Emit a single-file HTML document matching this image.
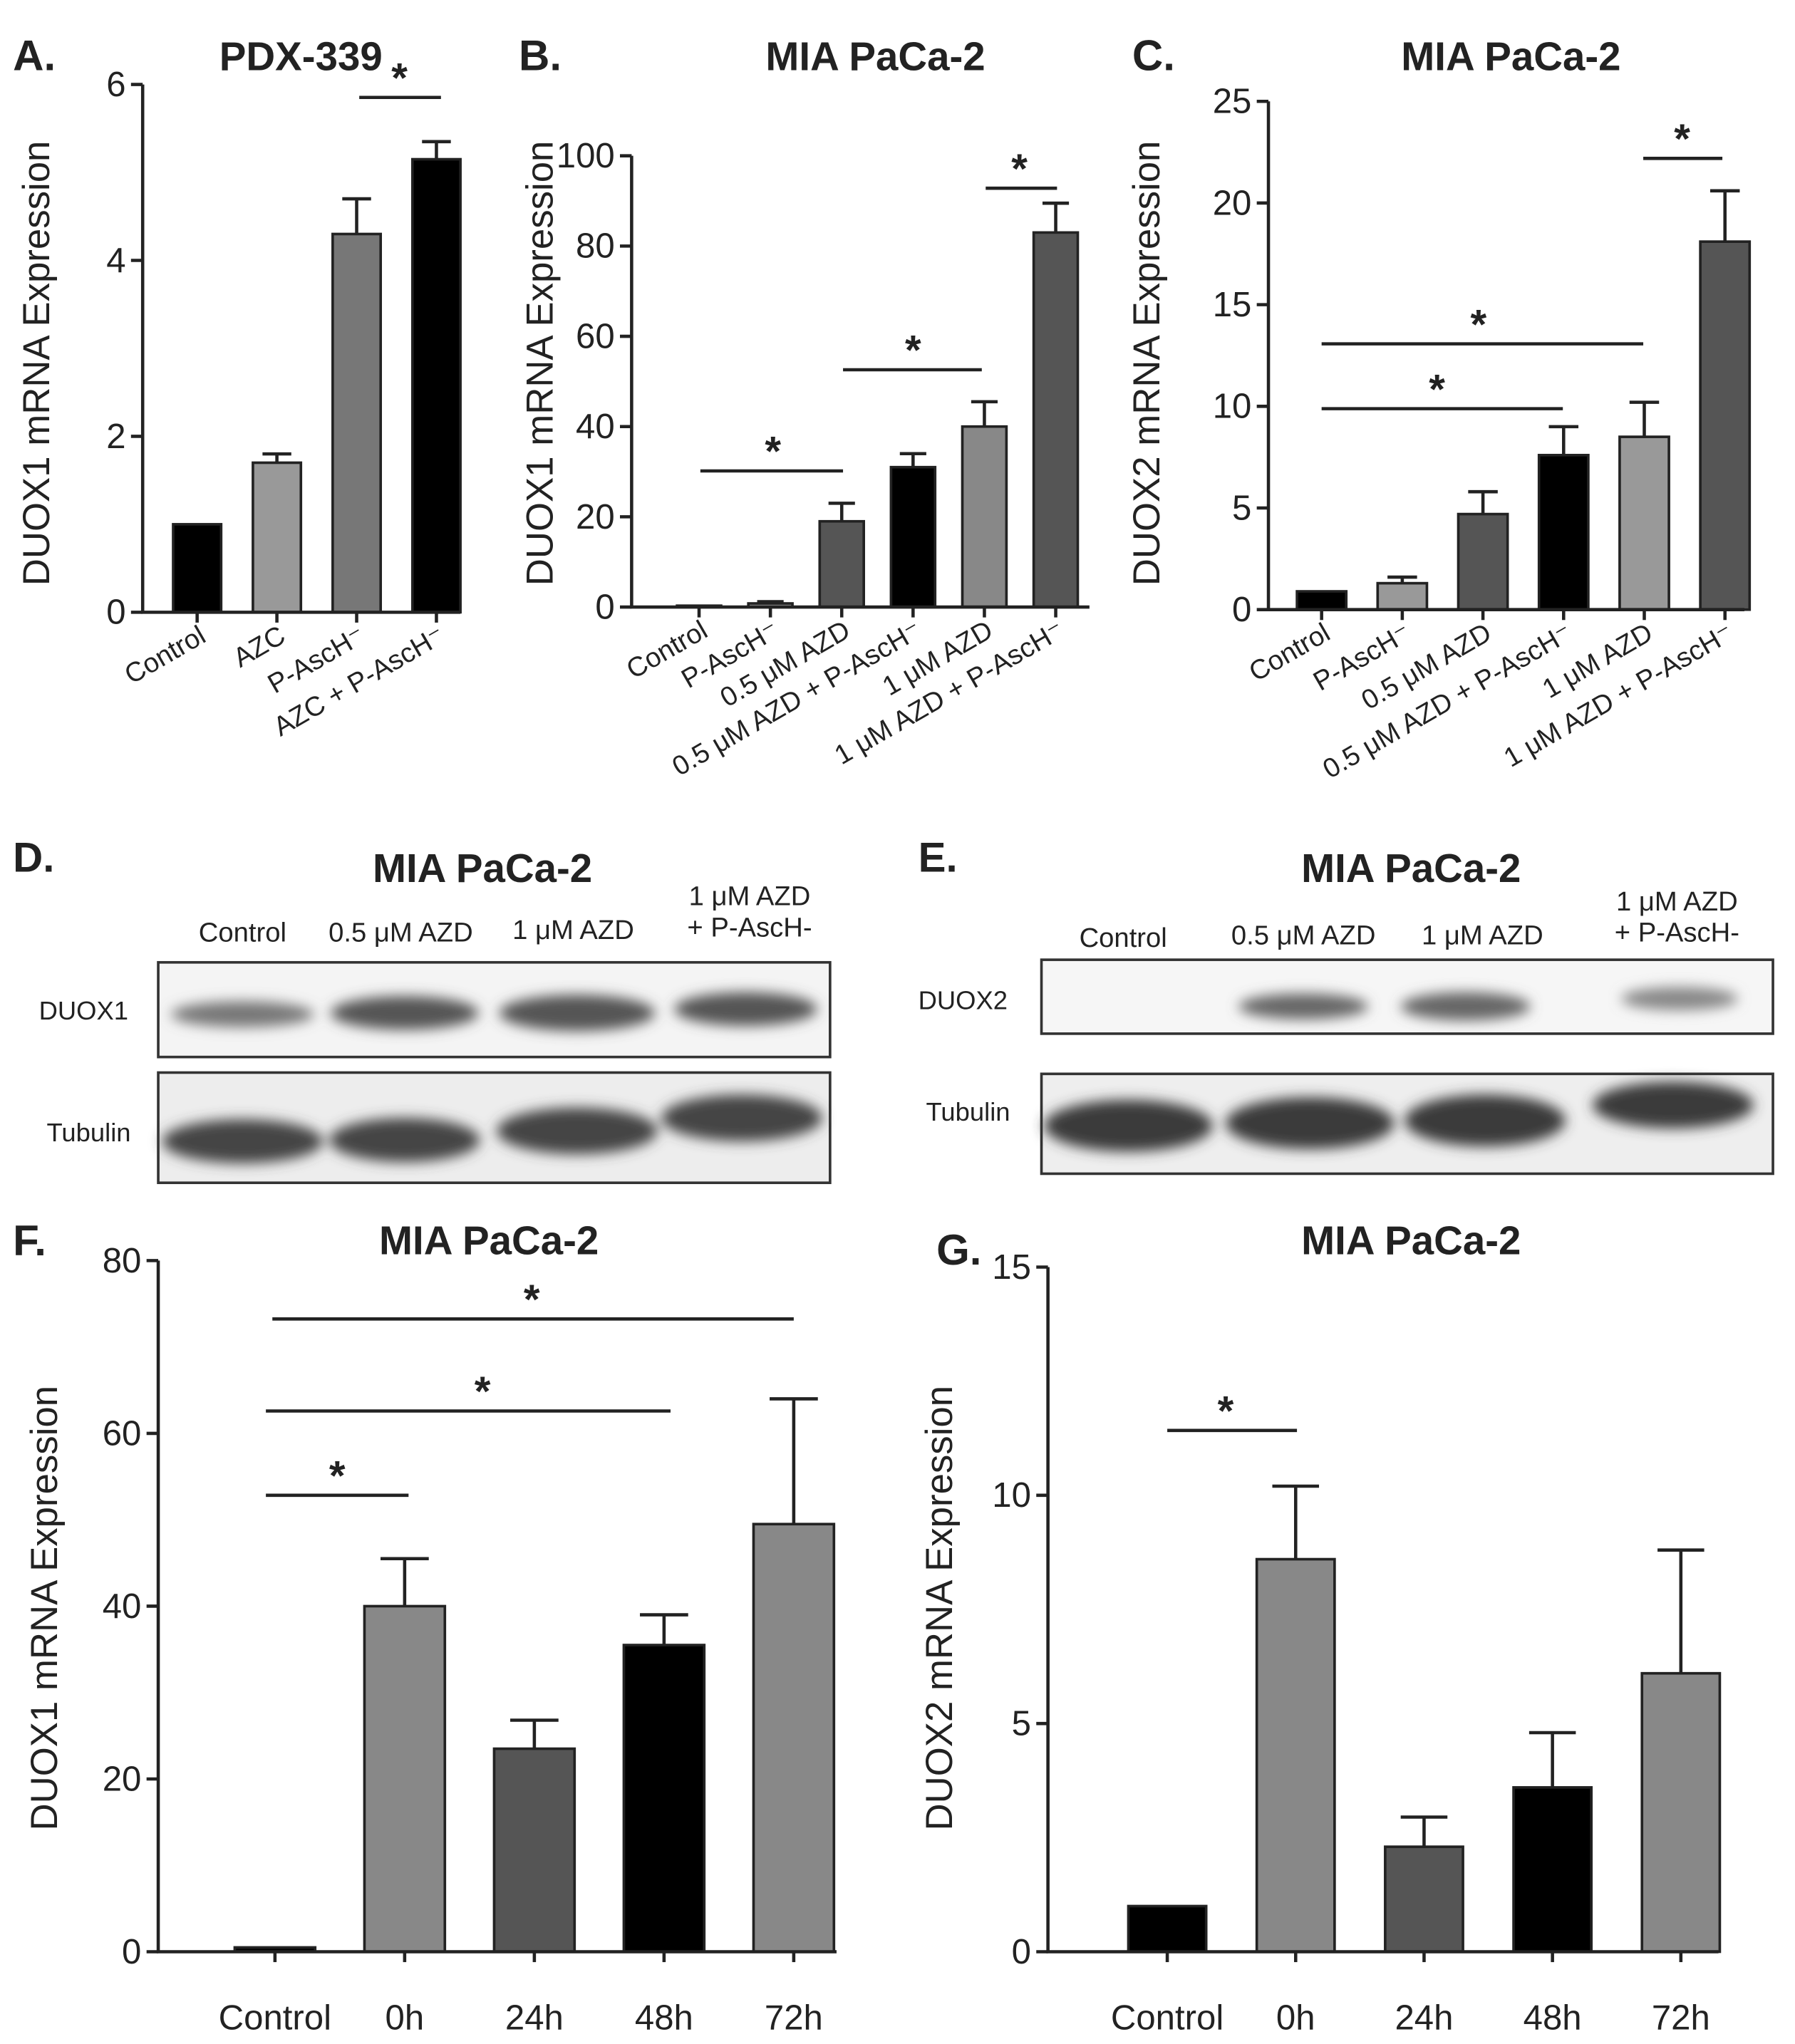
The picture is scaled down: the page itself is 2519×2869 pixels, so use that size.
<!DOCTYPE html>
<html><head><meta charset="utf-8"><style>
html,body{margin:0;padding:0;background:#fff}
svg{display:block}
text{font-family:"Liberation Sans",Arial,sans-serif;fill:#222}
</style></head><body>
<svg id="fig" width="2519" height="2869" viewBox="0 0 1384 1576" xmlns="http://www.w3.org/2000/svg">
<defs>
<filter id="blur" x="-20%" y="-50%" width="140%" height="200%"><feGaussianBlur stdDeviation="5"/></filter>
</defs>
<g>
<text x="10" y="672" font-size="32" font-weight="bold">D.</text>
<text x="372" y="680" font-size="31" font-weight="bold" text-anchor="middle">MIA PaCa-2</text>
<text x="187" y="726" font-size="21" text-anchor="middle">Control</text>
<text x="309" y="726" font-size="21" text-anchor="middle">0.5 μM AZD</text>
<text x="442" y="724" font-size="21" text-anchor="middle">1 μM AZD</text>
<text x="578" y="698" font-size="21" text-anchor="middle">1 μM AZD</text>
<text x="578" y="722" font-size="21" text-anchor="middle">+ P-AscH-</text>
<text x="30" y="786" font-size="20">DUOX1</text>
<text x="36" y="880" font-size="20">Tubulin</text>
<rect x="122" y="742" width="518" height="73" fill="#f4f4f4" stroke="#333" stroke-width="2"/>
<rect x="122" y="827" width="518" height="85" fill="#ededed" stroke="#333" stroke-width="2"/>
<g filter="url(#blur)" fill="#555">
<ellipse cx="187" cy="782" rx="55" ry="10" fill="#777"/>
<ellipse cx="312" cy="781" rx="57" ry="13"/>
<ellipse cx="445" cy="781" rx="60" ry="14"/>
<ellipse cx="575" cy="778" rx="55" ry="13"/>
<ellipse cx="187" cy="880" rx="62" ry="17" fill="#444"/>
<ellipse cx="312" cy="879" rx="58" ry="17" fill="#444"/>
<ellipse cx="445" cy="872" rx="62" ry="18" fill="#444"/>
<ellipse cx="572" cy="862" rx="62" ry="18" fill="#444"/>
</g>
</g>
<g>
<text x="708" y="672" font-size="32" font-weight="bold">E.</text>
<text x="1088" y="680" font-size="31" font-weight="bold" text-anchor="middle">MIA PaCa-2</text>
<text x="866" y="730" font-size="21" text-anchor="middle">Control</text>
<text x="1005" y="728" font-size="21" text-anchor="middle">0.5 μM AZD</text>
<text x="1143" y="728" font-size="21" text-anchor="middle">1 μM AZD</text>
<text x="1293" y="702" font-size="21" text-anchor="middle">1 μM AZD</text>
<text x="1293" y="726" font-size="21" text-anchor="middle">+ P-AscH-</text>
<text x="708" y="778" font-size="20">DUOX2</text>
<text x="714" y="864" font-size="20">Tubulin</text>
<rect x="803" y="740" width="564" height="57" fill="#f6f6f6" stroke="#333" stroke-width="2"/>
<rect x="803" y="828" width="564" height="77" fill="#eeeeee" stroke="#333" stroke-width="2"/>
<g filter="url(#blur)" fill="#555">
<ellipse cx="1005" cy="776" rx="50" ry="10" fill="#666"/>
<ellipse cx="1130" cy="776" rx="50" ry="11" fill="#666"/>
<ellipse cx="1295" cy="770" rx="45" ry="9" fill="#888"/>
<ellipse cx="870" cy="868" rx="65" ry="20" fill="#3a3a3a"/>
<ellipse cx="1010" cy="866" rx="65" ry="20" fill="#3a3a3a"/>
<ellipse cx="1145" cy="864" rx="62" ry="20" fill="#3a3a3a"/>
<ellipse cx="1290" cy="852" rx="62" ry="18" fill="#3a3a3a"/>
</g>
</g>
<g id="charts"></g>
</svg>
<script>
// Panel A
const aCats = ["Control","AZC","P-AscH\u207B","AZC + P-AscH\u207B"];
const aVals = [1.0, 1.7, 4.3, 5.15];
const aErr = [1.0, 1.8, 4.7, 5.35];
const aTicks = [0,2,4,6];
// Panel B
const bCats = ["Control","P-AscH\u207B","0.5 \u03BCM AZD","0.5 \u03BCM AZD + P-AscH\u207B","1 \u03BCM AZD","1 \u03BCM AZD + P-AscH\u207B"];
const bVals = [0.3, 0.8, 19, 31, 40, 83];
const bErr = [0.3, 1.2, 23, 34, 45.5, 89.5];
const bTicks = [0,20,40,60,80,100];
// Panel C
const cCats = ["Control","P-AscH\u207B","0.5 \u03BCM AZD","0.5 \u03BCM AZD + P-AscH\u207B","1 \u03BCM AZD","1 \u03BCM AZD + P-AscH\u207B"];
const cVals = [0.9, 1.3, 4.7, 7.6, 8.5, 18.1];
const cErr = [0.9, 1.6, 5.8, 9.0, 10.2, 20.6];
const cTicks = [0,5,10,15,20,25];
// Panel F
const fCats = ["Control","0h","24h","48h","72h"];
const fVals = [0.5, 40, 23.5, 35.5, 49.5];
const fErr = [0.5, 45.5, 26.8, 39, 64];
const fTicks = [0,20,40,60,80];
// Panel G
const gCats = ["Control","0h","24h","48h","72h"];
const gVals = [1.0, 8.6, 2.3, 3.6, 6.1];
const gErr = [1.0, 10.2, 2.95, 4.8, 8.8];
const gTicks = [0,5,10,15];

const NS="http://www.w3.org/2000/svg";
const root=document.getElementById('charts');
function mk(tag,attrs,parent){const e=document.createElementNS(NS,tag);for(const k in attrs)e.setAttribute(k,attrs[k]);(parent||root).appendChild(e);return e;}

function chart(cfg){
  const g=mk('g',{});
  
  
  const y=v=>cfg.y0-(v/cfg.ymax)*(cfg.y0-cfg.ytop);
  const letter=mk('text',{x:cfg.lx,y:cfg.ly,'font-size':33,'font-weight':'bold'},g);letter.textContent=cfg.letter;
  
  
  const t=mk('text',{x:cfg.tx,y:cfg.ty,'font-size':31,'font-weight':'bold','text-anchor':'middle'},g);t.textContent=cfg.title;
  
  
  const yt=mk('text',{x:0,y:0,'font-size':29,'text-anchor':'middle',transform:`translate(${cfg.ytx},${cfg.yty}) rotate(-90)`},g);yt.textContent=cfg.ytitle;
  
  
  cfg.cats.forEach((c,i)=>{
    const cx=cfg.x0+cfg.step*i;
    const top=y(cfg.vals[i]);
    if(cfg.err[i]>cfg.vals[i]+0.001){
      const el=mk('path',{d:`M${cx} ${top} V${y(cfg.err[i])} M${cx-cfg.bw*0.3} ${y(cfg.err[i])} H${cx+cfg.bw*0.3}`,stroke:'#222','stroke-width':2.5,fill:'none'},g);
      
      
    }
    const r=mk('rect',{x:cx-cfg.bw/2,y:top,width:cfg.bw,height:Math.max(cfg.y0-top,1),fill:cfg.colors[i],stroke:'#222','stroke-width':2},g);
    
    
    const tk=mk('line',{x1:cx,x2:cx,y1:cfg.y0,y2:cfg.y0+8,stroke:'#222','stroke-width':2.5},g);
    
    
    let lab;
    if(cfg.rot){
      lab=mk('text',{x:0,y:0,'font-size':cfg.xfs,'text-anchor':'end',transform:`translate(${cx+8},${cfg.y0+22}) rotate(-30)`},g);
    }else{
      lab=mk('text',{x:cx,y:cfg.y0+60,'font-size':cfg.xfs,'text-anchor':'middle'},g);
    }
    lab.textContent=c;
    
    
  });
  const ax=mk('path',{d:`M${cfg.ax} ${cfg.ytop} V${cfg.y0} H${cfg.axEnd}`,stroke:'#222','stroke-width':2.5,fill:'none'},g);
  
  
  cfg.ticks.forEach(v=>{
    const l=mk('line',{x1:cfg.ax-9,x2:cfg.ax,y1:y(v),y2:y(v),stroke:'#222','stroke-width':2.5},g);
    
    
    const tt=mk('text',{x:cfg.ax-13,y:y(v)+9,'font-size':27,'text-anchor':'end',fill:'#333'},g);tt.textContent=v;
    
    
  });
  cfg.sig.forEach(s=>{
    const l=mk('line',{x1:s[0],x2:s[1],y1:s[2],y2:s[2],stroke:'#222','stroke-width':2.5},g);
    
    
    const st=mk('text',{x:s[3],y:s[2]-4,'font-size':32,'font-weight':'bold','text-anchor':'middle'},g);st.textContent='*';
    
    
  });
}

chart({id:'panel-a-chart',letter:'A.',lx:10,ly:54,title:'PDX-339',tx:232,ty:54,ytitle:'DUOX1 mRNA Expression',ytx:38,yty:280,
  cats:aCats,vals:aVals,err:aErr,ticks:aTicks,ymax:6,y0:472,ytop:65,ax:110,axEnd:355,x0:152,step:61.5,bw:37,
  colors:['#000','#999','#777','#000'],rot:true,xfs:21,sig:[[277,340,75,308]]});
chart({id:'panel-b-chart',letter:'B.',lx:400,ly:54,title:'MIA PaCa-2',tx:675,ty:54,ytitle:'DUOX1 mRNA Expression',ytx:426,yty:280,
  cats:bCats,vals:bVals,err:bErr,ticks:bTicks,ymax:100,y0:468,ytop:120,ax:487,axEnd:840,x0:539,step:55,bw:34,
  colors:['#000','#999','#555','#000','#888','#555'],rot:true,xfs:21,sig:[[540,650,363,596],[650,757,285,704],[760,815,145,786]]});
chart({id:'panel-c-chart',letter:'C.',lx:873,ly:54,title:'MIA PaCa-2',tx:1165,ty:54,ytitle:'DUOX2 mRNA Expression',ytx:894,yty:280,
  cats:cCats,vals:cVals,err:cErr,ticks:cTicks,ymax:25,y0:470,ytop:78,ax:978,axEnd:1345,x0:1019,step:62.2,bw:38,
  colors:['#000','#999','#555','#000','#999','#555'],rot:true,xfs:21,sig:[[1019,1267,265,1140],[1019,1205,315,1108],[1267,1328,122,1297]]});
chart({id:'panel-f-chart',letter:'F.',lx:10,ly:968,title:'MIA PaCa-2',tx:377,ty:967,ytitle:'DUOX1 mRNA Expression',ytx:44,yty:1240,
  cats:fCats,vals:fVals,err:fErr,ticks:fTicks,ymax:80,y0:1505,ytop:972,ax:122,axEnd:645,x0:212,step:100,bw:62,
  colors:['#000','#888','#555','#000','#888'],rot:false,xfs:27,sig:[[205,315,1153,260],[205,517,1088,372],[210,612,1017,410]]});
chart({id:'panel-g-chart',letter:'G.',lx:722,ly:975,title:'MIA PaCa-2',tx:1088,ty:967,ytitle:'DUOX2 mRNA Expression',ytx:734,yty:1240,
  cats:gCats,vals:gVals,err:gErr,ticks:gTicks,ymax:15,y0:1505,ytop:977,ax:808,axEnd:1325,x0:900,step:99,bw:60,
  colors:['#000','#888','#555','#000','#888'],rot:false,xfs:27,sig:[[900,1000,1103,945]]});
</script>
</body></html>
